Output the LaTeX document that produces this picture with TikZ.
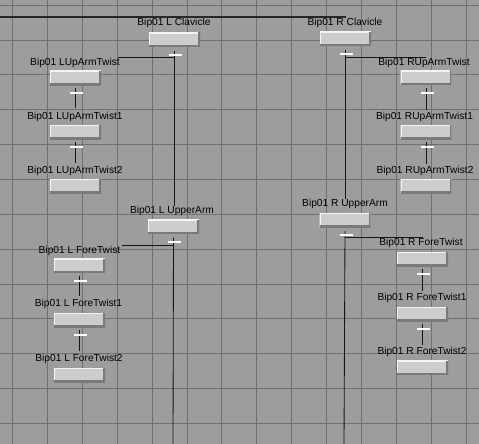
\documentclass[tikz,border=0pt]{standalone}
\usepackage{fontspec}
\setmainfont{Liberation Sans}
\definecolor{bgc}{HTML}{9D9D9D}
\definecolor{gridc}{HTML}{707070}
\definecolor{boxc}{HTML}{CDCDCD}
\definecolor{boxhi}{HTML}{F4F4F4}
\definecolor{boxlo}{HTML}{7A7A7A}
\definecolor{linkc}{HTML}{151515}
\begin{document}
\begin{tikzpicture}[x=1pt,y=-1pt,
  gridline/.style={gridc, line width=0.9pt},
  topline/.style={linkc!80!gridc, line width=1.4pt},
  link/.style={linkc, line width=0.85pt},
  box/.style={rectangle, minimum width=51pt, minimum height=14pt, inner sep=0pt, fill=boxc,
    path picture={
      \draw[line width=2.4pt, boxhi] (path picture bounding box.south west) -- (path picture bounding box.north west) -- (path picture bounding box.north east);
      \draw[line width=3.4pt, boxlo] (path picture bounding box.north east) -- (path picture bounding box.south east) -- (path picture bounding box.south west);
    }},
  lbl/.style={inner sep=0pt, font=\fontsize{10.2}{12}\selectfont, text height=7.5pt, text depth=2pt, text=black},
  tick/.style={fill=white, minimum width=13pt, minimum height=2.2pt, inner sep=0pt}
]
\fill[bgc] (0,0) rectangle (479,444);
\useasboundingbox (0,0) rectangle (479,444);
\foreach \i in {0,...,13} \draw[gridline] ({12.7+34.87*\i},0) -- ++(0,444);
\foreach \j in {0,...,12} \draw[gridline] (0,{5.2+34.85*\j}) -- ++(479,0);

% left column
\node[box] (lclav) at (174.5,39.5) {};
\node[lbl] (lclavl) at (174,23) {Bip01 L Clavicle};
\node[box] (luat) at (75.5,78) {};
\node[lbl] (luatl) at (75,63) {Bip01 LUpArmTwist};
\node[box] (luat1) at (75.5,132) {};
\node[lbl] (luat1l) at (75,117) {Bip01 LUpArmTwist1};
\node[box] (luat2) at (75.5,186) {};
\node[lbl] (luat2l) at (75,171) {Bip01 LUpArmTwist2};
\node[box] (lua) at (173.5,226.5) {};
\node[lbl] (lual) at (172,211) {Bip01 L UpperArm};
\node[box] (lft) at (79.5,265.5) {};
\node[lbl] (lftl) at (79.5,251) {Bip01 L ForeTwist};
\node[box] (lft1) at (79.5,320) {};
\node[lbl] (lft1l) at (78.5,304) {Bip01 L ForeTwist1};
\node[box] (lft2) at (79.5,375) {};
\node[lbl] (lft2l) at (79,359) {Bip01 L ForeTwist2};

% right column
\node[box] (rclav) at (345.5,39) {};
\node[lbl] (rclavl) at (345,23) {Bip01 R Clavicle};
\node[box] (ruat) at (426,77.5) {};
\node[lbl] (ruatl) at (424,63) {Bip01 RUpArmTwist};
\node[box] (ruat1) at (426,132) {};
\node[lbl] (ruat1l) at (424.5,116.5) {Bip01 RUpArmTwist1};
\node[box] (ruat2) at (426,186) {};
\node[lbl] (ruat2l) at (425,171) {Bip01 RUpArmTwist2};
\node[box] (rua) at (345,220) {};
\node[lbl] (rual) at (345,204) {Bip01 R UpperArm};
\node[box] (rft) at (422.5,259) {};
\node[lbl] (rftl) at (421,243) {Bip01 R ForeTwist};
\node[box] (rft1) at (422.5,314) {};
\node[lbl] (rft1l) at (422,298) {Bip01 R ForeTwist1};
\node[box] (rft2) at (422.5,367.5) {};
\node[lbl] (rft2l) at (422,352) {Bip01 R ForeTwist2};

\coordinate (neck) at (0,17);
\coordinate (lbot) at (173,444);
\coordinate (rbot) at (344,444);

% links
\draw[topline] (neck) -- (neck -| rclav.south);
\draw[link] ([yshift=-4pt]lclav.south) -- (lclav.south |- lual.north);
\draw[link] ([yshift=1pt]lclav.south |- luatl.north) -- ([xshift=-2pt,yshift=1pt]luatl.north east);
\draw[link] ([yshift=-3pt]luat.south) -- ([yshift=4pt]luat.south |- luat1l.north);
\draw[link] ([yshift=-3pt]luat1.south) -- ([yshift=3pt]luat1.south |- luat2l.north);
\draw[link] ([yshift=-4pt]lua.south) -- (lbot);
\draw[link] ([yshift=1pt]lua.south |- lftl.north) -- ([xshift=1pt,yshift=1pt]lftl.north east);
\draw[link] ([yshift=-3pt]lft.south) -- ([yshift=3pt]lft.south |- lft1l.north);
\draw[link] ([yshift=-3pt]lft1.south) -- ([yshift=3pt]lft1.south |- lft2l.north);

\draw[link] ([yshift=-4pt]rclav.south) -- (rclav.south |- rual.north);
\draw[link] ([yshift=1pt]rclav.south |- ruatl.north) -- ([yshift=1pt]ruat.north |- ruatl.north);
\draw[link] ([yshift=-3pt]ruat.south) -- ([yshift=2pt]ruat.south |- ruat1l.north);
\draw[link] ([yshift=-3pt]ruat1.south) -- ([yshift=2pt]ruat1.south |- ruat2l.north);
\draw[link] ([yshift=-4pt]rua.south) -- (rbot);
\draw[link] ([yshift=1pt]rua.south |- rftl.north) -- ([yshift=1pt]rft.north |- rftl.north);
\draw[link] ([yshift=-3pt]rft.south) -- ([yshift=2pt]rft.south |- rft1l.north);
\draw[link] ([yshift=-3pt]rft1.south) -- ([yshift=2pt]rft1.south |- rft2l.north);

% ticks
\node[tick] (lclavd) at ([xshift=1pt,yshift=-8pt]lclav.south) {};
\node[tick] (luatd) at ([xshift=1pt,yshift=-8pt]luat.south) {};
\node[tick] (luat1d) at ([xshift=1pt,yshift=-8pt]luat1.south) {};
\node[tick] (luad) at ([xshift=1pt,yshift=-8pt]lua.south) {};
\node[tick] (lftd) at ([xshift=1pt,yshift=-8pt]lft.south) {};
\node[tick] (lft1d) at ([xshift=1pt,yshift=-8pt]lft1.south) {};
\node[tick] (rclavd) at ([xshift=1pt,yshift=-8pt]rclav.south) {};
\node[tick] (ruatd) at ([xshift=1pt,yshift=-8pt]ruat.south) {};
\node[tick] (ruat1d) at ([xshift=1pt,yshift=-8pt]ruat1.south) {};
\node[tick] (ruad) at ([xshift=1pt,yshift=-8pt]rua.south) {};
\node[tick] (rftd) at ([xshift=1pt,yshift=-8pt]rft.south) {};
\node[tick] (rft1d) at ([xshift=1pt,yshift=-8pt]rft1.south) {};
\end{tikzpicture}
\end{document}
